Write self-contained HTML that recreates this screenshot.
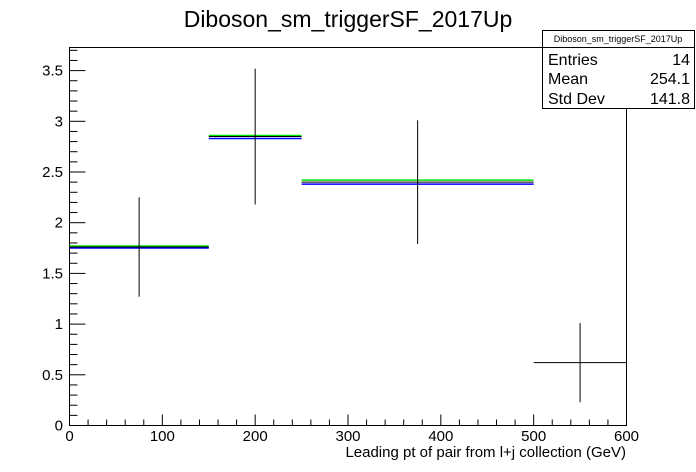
<!DOCTYPE html>
<html><head><meta charset="utf-8"><style>
body{margin:0;background:#fff}svg{display:block;font-family:"Liberation Sans",sans-serif}
</style></head><body>
<svg id="c" width="696" height="472" viewBox="0 0 696 472">
<text x="348" y="27" font-size="23" text-anchor="middle">Diboson_sm_triggerSF_2017Up</text>
<rect x="69.5" y="47.5" width="557" height="378" fill="none" stroke="#000"/>
<g id="ax"></g><g id="marks"></g>
<text x="626" y="457" font-size="15" text-anchor="end">Leading pt of pair from l+j collection (GeV)</text>
<g>
<rect x="542.5" y="30.5" width="152" height="78" fill="#fff" stroke="#000"/>
<line x1="542" y1="47.5" x2="695" y2="47.5" stroke="#000"/>
<text x="618" y="42" font-size="9" text-anchor="middle">Diboson_sm_triggerSF_2017Up</text>
<text x="548" y="65" font-size="16">Entries</text><text x="690" y="65" font-size="16" text-anchor="end">14</text>
<text x="548" y="84" font-size="16">Mean</text><text x="690" y="84" font-size="16" text-anchor="end">254.1</text>
<text x="548" y="104" font-size="16">Std Dev</text><text x="690" y="104" font-size="16" text-anchor="end">141.8</text>
</g>
</svg>
<script>
const binLo=[0,150,250,500];
const binHi=[150,250,500,600];
const values=[1.76,2.85,2.40,0.62];
const errors=[0.49,0.67,0.61,0.39];
const greenVals=[1.77,2.86,2.42,null];
const blueVals=[1.75,2.83,2.38,null];
const xTicks=[0,100,200,300,400,500,600];
const yTicks=[0,0.5,1,1.5,2,2.5,3,3.5];
const X=v=>69.5+v*(557/600);
const Y=v=>425.5-v*101.4;
const NS="http://www.w3.org/2000/svg";
function mk(p,t,a){const e=document.createElementNS(NS,t);for(const k in a)e.setAttribute(k,a[k]);p.appendChild(e);return e;}
const ax=document.getElementById('ax'),mg=document.getElementById('marks');
for(let v=0;v<=600;v+=20){const big=v%100===0;
const l=mk(ax,'line',{x1:X(v),x2:X(v),y1:425.5,y2:425.5-(big?11:6),stroke:'#000'});

}
xTicks.forEach(v=>{const t=mk(ax,'text',{x:X(v),y:441,'font-size':15,'text-anchor':'middle'});t.textContent=v;

});
for(let i=0;i<=37;i++){const v=i*0.1;const big=i%5===0;
const l=mk(ax,'line',{x1:69.5,x2:69.5+(big?16:8),y1:Y(v),y2:Y(v),stroke:'#000'});

}
yTicks.forEach(v=>{const t=mk(ax,'text',{x:63,y:Y(v)+5,'font-size':15,'text-anchor':'end'});t.textContent=v;

});
values.forEach((v,i)=>{
if(greenVals[i]!=null){const g=mk(mg,'line',{x1:X(binLo[i]),x2:X(binHi[i]),y1:Y(greenVals[i]),y2:Y(greenVals[i]),stroke:'#00e000','stroke-width':1.5});

}
if(blueVals[i]!=null){const b=mk(mg,'line',{x1:X(binLo[i]),x2:X(binHi[i]),y1:Y(blueVals[i]),y2:Y(blueVals[i]),stroke:'#0000ff','stroke-width':1.5});

}
const h=mk(mg,'line',{x1:X(binLo[i]),x2:X(binHi[i]),y1:Y(v),y2:Y(v),stroke:'#000'});


const c=(binLo[i]+binHi[i])/2;
const e=mk(mg,'line',{x1:X(c),x2:X(c),y1:Y(v-errors[i]),y2:Y(v+errors[i]),stroke:'#000'});


});
</script>
</body></html>
